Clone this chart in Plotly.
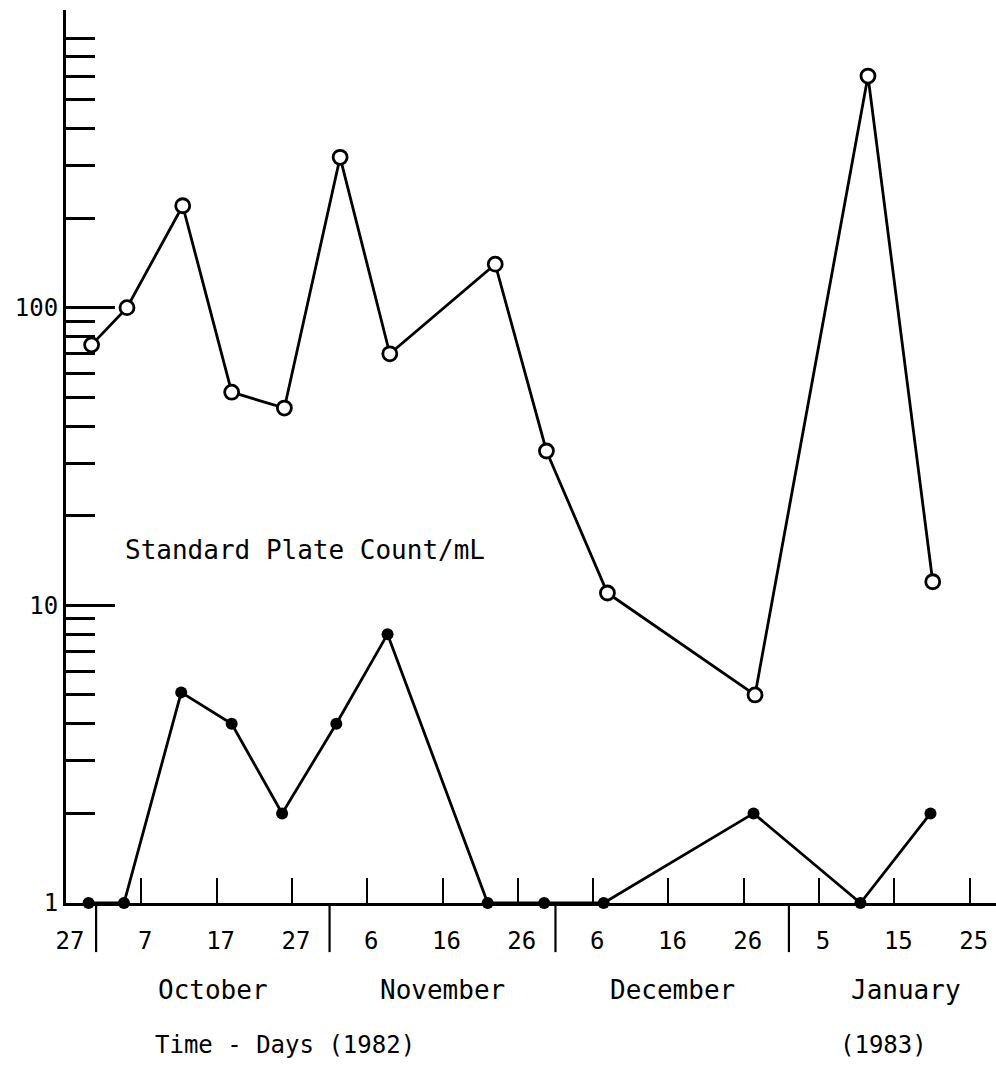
import plotly.graph_objects as go

# Sampling day, counted from 27 September 1982
spc_day = [3.4, 8.1, 15.5, 22.0, 29.0, 36.4, 43.0, 57.0, 63.8, 71.9, 91.5, 106.5, 115.1]
spc_count = [75, 100, 220, 52, 46, 320, 70, 140, 33, 11, 5, 600, 12]

low_day = [3.0, 7.7, 15.3, 22.0, 28.7, 35.9, 42.7, 56.0, 63.5, 71.4, 91.3, 105.5, 114.8]
low_count = [1, 1, 5.1, 4, 2, 4, 8, 1, 1, 1, 2, 1, 2]

# x axis: every ten days from 27 Sept
tick_days = [0, 10, 20, 30, 40, 50, 60, 70, 80, 90, 100, 110, 120]
tick_labels = ["27", "7", "17", "27", "6", "16", "26", "6", "16", "26", "5", "15", "25"]

# first day of each month (1 Oct, 1 Nov, 1 Dec, 1 Jan, 1 Feb)
month_starts = [4, 35, 65, 96, 127]
month_names = ["October", "November", "December", "January"]

# y axis: decades with intermediate marks
y_major = [1, 10, 100]
y_major_text = ["1", "10", "100"]
y_minor = [2, 3, 4, 5, 6, 7, 8, 9,
           20, 30, 40, 50, 60, 70, 80, 90,
           200, 300, 400, 500, 600, 700, 800]

MONO = "DejaVu Sans Mono"
INK = "black"

fig = go.Figure()

fig.add_trace(go.Scatter(
    x=spc_day, y=spc_count, mode="lines+markers",
    line=dict(color=INK, width=2.8),
    marker=dict(symbol="circle", size=14, color="white",
                line=dict(color=INK, width=2.8)),
    cliponaxis=False, showlegend=False,
))

fig.add_trace(go.Scatter(
    x=low_day, y=low_count, mode="lines+markers",
    line=dict(color=INK, width=2.8),
    marker=dict(symbol="circle", size=12, color=INK),
    cliponaxis=False, showlegend=False,
))

# month separators below the time axis
for d in month_starts[:4]:
    fig.add_shape(type="line", xref="x", yref="paper",
                  x0=d, x1=d, y0=0, y1=-0.055,
                  line=dict(color=INK, width=2.2))

# month names centred in each month
for name, a, b in zip(month_names, month_starts[:-1], month_starts[1:]):
    fig.add_annotation(x=(a + b) / 2, y=-0.097, xref="x", yref="paper",
                       text=name, showarrow=False,
                       font=dict(family=MONO, size=26, color=INK),
                       xanchor="center", yanchor="middle")

fig.add_annotation(x=0.0934, y=-0.159, xref="paper", yref="paper",
                   text="Time - Days (1982)", showarrow=False,
                   font=dict(family=MONO, size=24, color=INK),
                   xanchor="left", yanchor="middle")
fig.add_annotation(x=0.830, y=-0.159, xref="paper", yref="paper",
                   text="(1983)", showarrow=False,
                   font=dict(family=MONO, size=24, color=INK),
                   xanchor="left", yanchor="middle")

fig.add_annotation(x=7.6, y=1.186, xref="x", yref="y",
                   text="Standard Plate Count/mL", showarrow=False,
                   font=dict(family=MONO, size=26, color=INK),
                   xanchor="left", yanchor="middle")

fig.update_xaxes(
    range=[0, 123.5], showgrid=False, zeroline=False,
    showline=True, linecolor=INK, linewidth=3,
    tickmode="array", tickvals=tick_days, ticktext=tick_labels,
    ticks="inside", ticklen=25, tickwidth=2.2, tickcolor=INK,
    ticklabelstandoff=14, ticklabelshift=4,
    tickfont=dict(family=MONO, size=24, color=INK),
)

fig.update_yaxes(
    type="log", range=[0, 3], showgrid=False, zeroline=False,
    showline=True, linecolor=INK, linewidth=3,
    tickmode="array", tickvals=y_major, ticktext=y_major_text,
    ticks="inside", ticklen=49, tickwidth=3, tickcolor=INK,
    tickfont=dict(family=MONO, size=24, color=INK),
    minor=dict(tickmode="array", tickvals=y_minor, ticks="inside",
               ticklen=29, tickwidth=3, tickcolor=INK, showgrid=False),
)

fig.update_layout(
    width=996, height=1074,
    margin=dict(l=66, r=0, t=10, b=171),
    paper_bgcolor="white", plot_bgcolor="white",
)

fig.write_html("out.html")
